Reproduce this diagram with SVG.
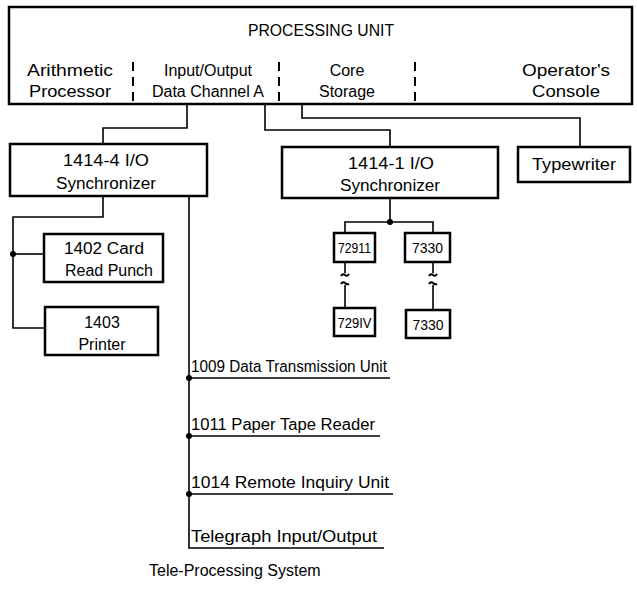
<svg xmlns="http://www.w3.org/2000/svg" width="637" height="601" viewBox="0 0 637 601">
  <style>
    .box { fill: #fff; stroke: #000; stroke-width: 2.5; }
    .wire { fill: none; stroke: #000; stroke-width: 1.6; }
    .brk { fill: none; stroke: #000; stroke-width: 2; }
    .div { stroke: #000; stroke-width: 2; stroke-dasharray: 9 6; }
    text { font-family: "Liberation Sans", Arial, sans-serif; font-size: 16px; fill: #000; }
    .c { text-anchor: middle; }
    .t { font-size: 14px; }
    .dot { fill: #000; }
  </style>
  <rect width="637" height="601" fill="#fff"/>

  <!-- Processing unit -->
  <g id="processing-unit">
    <rect class="box" x="9" y="7" width="623" height="97"/>
    <text class="c" x="321" y="36" textLength="146" lengthAdjust="spacingAndGlyphs">PROCESSING UNIT</text>
    <line class="div" x1="133" y1="62" x2="133" y2="104"/>
    <line class="div" x1="279" y1="62" x2="279" y2="104"/>
    <line class="div" x1="415" y1="62" x2="415" y2="104"/>
    <text class="c" x="70" y="76" textLength="86" lengthAdjust="spacingAndGlyphs">Arithmetic</text>
    <text class="c" x="70" y="97" textLength="82" lengthAdjust="spacingAndGlyphs">Processor</text>
    <text class="c" x="208" y="76">Input/Output</text>
    <text class="c" x="208" y="97">Data Channel A</text>
    <text class="c" x="347" y="76">Core</text>
    <text class="c" x="347" y="97">Storage</text>
    <text class="c" x="566" y="76" textLength="88" lengthAdjust="spacingAndGlyphs">Operator's</text>
    <text class="c" x="566" y="97" textLength="68" lengthAdjust="spacingAndGlyphs">Console</text>
  </g>

  <!-- Connectors -->
  <g id="connectors">
    <path class="wire" d="M187,104 V128 H103 V144"/>
    <path class="wire" d="M265,104 V130 H390 V147"/>
    <path class="wire" d="M302,104 V118 H580 V147"/>
    <path class="wire" d="M103,196 V217 H13 V328 H45"/>
    <path class="wire" d="M13,254 H44"/>
    <path class="wire" d="M189,196 V548 H384"/>
    <path class="wire" d="M189,378 H390"/>
    <path class="wire" d="M189,436 H380"/>
    <path class="wire" d="M189,494 H393"/>
    <path class="wire" d="M390,198 V222"/>
    <path class="wire" d="M345,233 V222 H433 V233"/>
    <!-- broken lines between the tape units -->
    <path class="wire" d="M345,262 V273"/>
    <path class="brk" d="M341,276 q2,-3 4,-1 q2,2 4,-1"/>
    <path class="brk" d="M341,284 q2,-3 4,-1 q2,2 4,1"/>
    <path class="wire" d="M345,285 V308"/>
    <path class="wire" d="M433,262 V273"/>
    <path class="brk" d="M429,276 q2,-3 4,-1 q2,2 4,-1"/>
    <path class="brk" d="M429,284 q2,-3 4,-1 q2,2 4,1"/>
    <path class="wire" d="M433,285 V310"/>
    <circle class="dot" cx="13" cy="254" r="3"/>
    <circle class="dot" cx="390" cy="222" r="3"/>
    <circle class="dot" cx="189" cy="378" r="3"/>
    <circle class="dot" cx="189" cy="436" r="3"/>
    <circle class="dot" cx="189" cy="494" r="3"/>
  </g>

  <g id="sync-1414-4">
    <rect class="box" x="10" y="144" width="197" height="52"/>
    <text class="c" x="106" y="166" textLength="86" lengthAdjust="spacingAndGlyphs">1414-4 I/O</text>
    <text class="c" x="106" y="189" textLength="100" lengthAdjust="spacingAndGlyphs">Synchronizer</text>
  </g>

  <g id="sync-1414-1">
    <rect class="box" x="282" y="147" width="216" height="51"/>
    <text class="c" x="391" y="169" textLength="86" lengthAdjust="spacingAndGlyphs">1414-1 I/O</text>
    <text class="c" x="390" y="191" textLength="100" lengthAdjust="spacingAndGlyphs">Synchronizer</text>
  </g>

  <g id="typewriter">
    <rect class="box" x="518" y="147" width="112" height="35"/>
    <text class="c" x="574" y="170" textLength="84" lengthAdjust="spacingAndGlyphs">Typewriter</text>
  </g>

  <g id="card-read-punch">
    <rect class="box" x="44" y="234" width="119" height="48"/>
    <text class="c" x="104" y="254" textLength="80" lengthAdjust="spacingAndGlyphs">1402 Card</text>
    <text class="c" x="109" y="276" textLength="88" lengthAdjust="spacingAndGlyphs">Read Punch</text>
  </g>

  <g id="printer">
    <rect class="box" x="45" y="307" width="113" height="48"/>
    <text class="c" x="102" y="328">1403</text>
    <text class="c" x="102" y="350">Printer</text>
  </g>

  <g id="tape-7291-ii">
    <rect class="box" x="334" y="233" width="41" height="29"/>
    <text class="c t" x="354.5" y="253" textLength="33" lengthAdjust="spacingAndGlyphs">72911</text>
  </g>

  <g id="tape-7330-a">
    <rect class="box" x="405" y="233" width="45" height="29"/>
    <text class="c t" x="427.5" y="253">7330</text>
  </g>

  <g id="tape-7291-iv">
    <rect class="box" x="334" y="308" width="41" height="28"/>
    <text class="c t" x="354.5" y="328" textLength="34" lengthAdjust="spacingAndGlyphs">729IV</text>
  </g>

  <g id="tape-7330-b">
    <rect class="box" x="406" y="310" width="44" height="28"/>
    <text class="c t" x="428" y="330">7330</text>
  </g>

  <g id="data-transmission-unit">
    <text x="191" y="372" textLength="196" lengthAdjust="spacingAndGlyphs">1009 Data Transmission Unit</text>
  </g>
  <g id="paper-tape-reader">
    <text x="191" y="430" textLength="184" lengthAdjust="spacingAndGlyphs">1011 Paper Tape Reader</text>
  </g>
  <g id="remote-inquiry-unit">
    <text x="191" y="488" textLength="198" lengthAdjust="spacingAndGlyphs">1014 Remote Inquiry Unit</text>
  </g>
  <g id="telegraph">
    <text x="191" y="542" textLength="186" lengthAdjust="spacingAndGlyphs">Telegraph Input/Output</text>
  </g>

  <text x="149" y="576" font-size="15">Tele-Processing System</text>
</svg>
